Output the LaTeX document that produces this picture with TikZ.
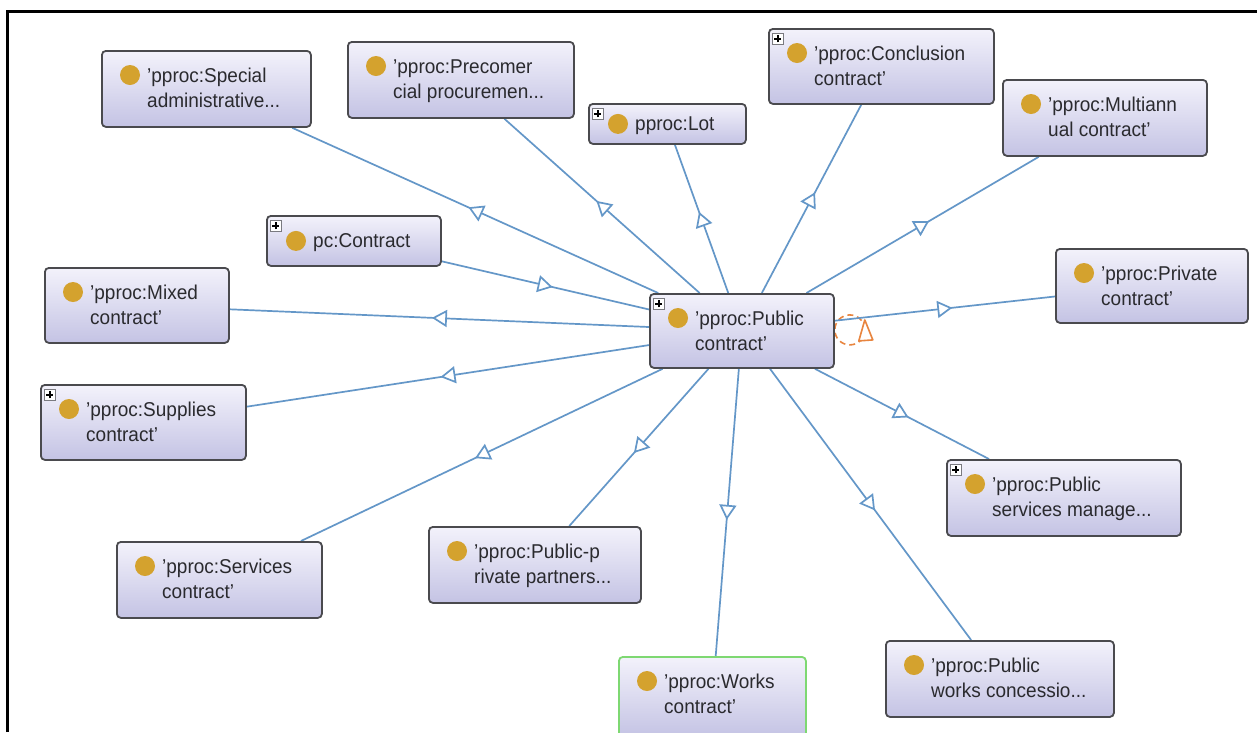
\documentclass[tikz,border=0pt]{standalone}
\usepackage{fontspec}
\setmainfont{Liberation Sans}[FakeStretch=0.95]
\usetikzlibrary{arrows.meta,decorations.markings,calc}

\definecolor{edgeblue}{HTML}{6497C8}
\definecolor{boxline}{HTML}{4A4A4E}
\definecolor{boxtop}{HTML}{F3F2FB}
\definecolor{boxbot}{HTML}{C4C3E4}
\definecolor{dotgold}{HTML}{D4A22E}
\definecolor{worksgreen}{HTML}{7ED872}
\definecolor{loopor}{HTML}{E8853F}
\definecolor{labeltext}{HTML}{2A2A2E}
\definecolor{plusline}{HTML}{7A7A80}

\pgfdeclarelayer{bg}
\pgfsetlayers{bg,main}

\tikzset{
  obox/.style={draw=boxline, line width=1.8pt, rounded corners=4pt,
    top color=boxtop, bottom color=boxbot, anchor=north west, inner sep=0pt},
  dot/.style={circle, fill=dotgold, minimum size=20pt, inner sep=0pt},
  lbl/.style={anchor=base west, inner sep=0pt, text=labeltext,
    font=\fontsize{20}{24}\selectfont},
  plusbox/.style={draw=plusline, fill=white, minimum size=11pt, inner sep=0pt,
    line width=0.9pt, anchor=north west,
    path picture={\draw[black, line width=1.1pt]
      ($(path picture bounding box.center)+(-3.5pt,0pt)$) -- ++(7pt,0pt)
      ($(path picture bounding box.center)+(0pt,-3.5pt)$) -- ++(0pt,7pt);}},
  isa/.style={color=edgeblue, line width=1.7pt, postaction={decorate},
    decoration={markings, mark=at position 0.5 with
      {\pgftransformxshift{7.5pt}\arrow{Triangle[length=15pt,width=17pt,fill=white]}}}},
}

% class box with two text lines: name, x, y, width, height, line 1, line 2
\newcommand\ontobox[7]{%
  \node[obox, minimum width=#4pt, minimum height=#5pt] (#1) at (#2,#3) {};
  \node[dot] (#1-dot) at ($(#1.north west)+(29,25)$) {};
  \node[lbl] (#1-a) at ($(#1.north west)+(46,32)$) {#6};
  \node[lbl] (#1-b) at ($(#1.north west)+(46,57)$) {#7};
}
% class box with one text line: name, x, y, width, height, text
\newcommand\ontoboxone[6]{%
  \node[obox, minimum width=#4pt, minimum height=#5pt] (#1) at (#2,#3) {};
  \node[dot] (#1-dot) at ($(#1.west)+(30,0)$) {};
  \node[lbl] (#1-a) at ($(#1.west)+(47,7)$) {#6};
}
% expand icon in the upper left corner of a box
\newcommand\expander[1]{%
  \node[plusbox] (#1-plus) at ($(#1.north west)+(4,5)$) {};
}

\begin{document}
\begin{tikzpicture}[x=1pt,y=-1pt]
  \useasboundingbox (0,0) rectangle (1257,732);

  % frame
  \draw[line width=3pt, black] (7.5,732) -- (7.5,11) -- (1257,11);

  % classes
  \ontobox{spec}{101}{50}{209}{76}{'pproc:Special}{administrative...}
  \ontobox{prec}{347}{41}{226}{76}{'pproc:Precomer}{cial procuremen...}
  \ontoboxone{lot}{588}{103}{157}{40}{pproc:Lot}
  \expander{lot}
  \ontobox{concl}{768}{28}{225}{75}{'pproc:Conclusion}{contract'}
  \expander{concl}
  \ontobox{multi}{1002}{79}{204}{76}{'pproc:Multiann}{ual contract'}
  \ontoboxone{pc}{266}{215}{174}{50}{pc:Contract}
  \expander{pc}
  \ontobox{mixed}{44}{267}{184}{75}{'pproc:Mixed}{contract'}
  \ontobox{pub}{649}{293}{184}{74}{'pproc:Public}{contract'}
  \expander{pub}
  \ontobox{priv}{1055}{248}{192}{74}{'pproc:Private}{contract'}
  \ontobox{supp}{40}{384}{205}{75}{'pproc:Supplies}{contract'}
  \expander{supp}
  \ontobox{psm}{946}{459}{234}{76}{'pproc:Public}{services manage...}
  \expander{psm}
  \ontobox{serv}{116}{541}{205}{76}{'pproc:Services}{contract'}
  \ontobox{ppp}{428}{526}{212}{76}{'pproc:Public-p}{rivate partners...}
  \begin{scope}[obox/.append style={draw=worksgreen}]
    \ontobox{works}{618}{656}{187}{80}{'pproc:Works}{contract'}
  \end{scope}
  \ontobox{pwc}{885}{640}{228}{76}{'pproc:Public}{works concessio...}

  \begin{pgfonlayer}{bg}
    \fill[white] (0,0) rectangle (1257,732);

    % self loop on the central class
    \coordinate (loopc) at ($(pub.east)+(15,-1)$);
    \draw[loopor, line width=1.6pt, dash pattern=on 6pt off 4pt]
      (loopc) circle[radius=15pt];
    \draw[loopor, line width=1.6pt, fill=white, line join=round]
      ($(loopc)+(15,-10)$) -- ++(-6,21) -- ++(14,-1) -- cycle;

    % subclass links
    \draw[isa] (pc) -- (pub);
    \foreach \n in {spec,prec,lot,concl,multi,mixed,priv,supp,psm,serv,ppp,works,pwc}
      \draw[isa] (pub) -- (\n);
  \end{pgfonlayer}
\end{tikzpicture}
\end{document}
